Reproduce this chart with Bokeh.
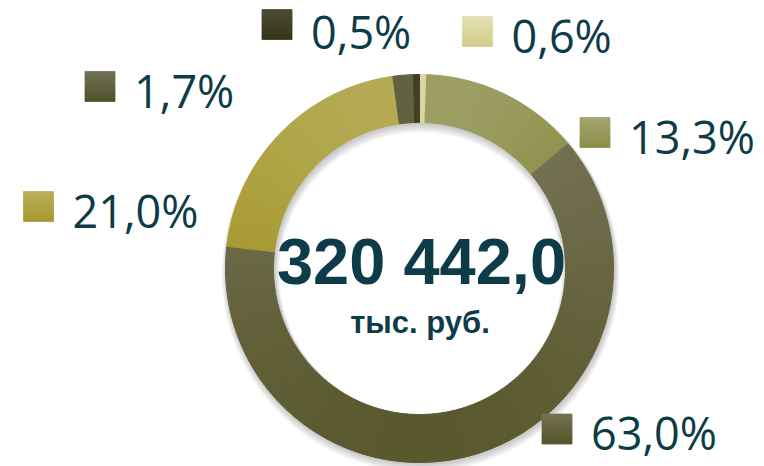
import math
from bokeh.plotting import figure
from bokeh.models import Range1d, ColumnDataSource
from bokeh.core.properties import value
from bokeh.embed import file_html
from bokeh.resources import INLINE

# ---- data (clockwise from 12 o'clock) ----
shares = [0.6, 13.3, 63.0, 21.0, 1.7, 0.5]
# per-slice gradient: top colour -> bottom colour
color_top = ["#e4dfb0", "#a2a36e", "#737153", "#b7ad5a", "#706f51", "#4c4a33"]
color_bot = ["#d4cd8c", "#8e8f48", "#58562a", "#a89a32", "#53522e", "#37351a"]
total_value = 320442.0
unit_label = "тыс. руб."

# ---- layout (page pixel positions of legend squares) ----
sq_x = [477, 594.5, 556.5, 38, 99.5, 276.5]
sq_y = [31, 132, 428.5, 206, 86, 24]

W, H = 764, 466
def X(px):
    return px
def Y(py):
    return H - py

def hex2rgb(h):
    h = h.lstrip("#")
    return [int(h[i:i + 2], 16) for i in (0, 2, 4)]

def mix(c1, c2, t):
    a, b = hex2rgb(c1), hex2rgb(c2)
    return "#%02x%02x%02x" % tuple(int(round(a[i] + (b[i] - a[i]) * t)) for i in range(3))

p = figure(width=W, height=H, x_range=Range1d(0, W), y_range=Range1d(0, H),
           x_axis_type=None, y_axis_type=None, toolbar_location=None,
           output_backend="svg", min_border=0)
p.outline_line_color = None
p.grid.visible = False
p.background_fill_color = "white"
p.border_fill_color = "white"

cx, cy = X(419), Y(268)
r_out, r_in = 194, 146

# soft shadow under the ring
for k in range(1, 7):
    p.annulus(x=cx + 1, y=cy - 1 - k * 0.7, inner_radius=r_in - k * 0.8,
              outer_radius=r_out + k * 0.8, fill_color="black",
              fill_alpha=0.035, line_color=None)

# slices, each split into thin sub-wedges to imitate a vertical gradient
tot = sum(shares)
s_start, s_end, s_col = [], [], []
acc = 0.0
for i, v in enumerate(shares):
    a0 = acc / tot
    acc += v
    a1 = acc / tot
    th_hi = math.pi / 2 - 2 * math.pi * a0   # angle where slice begins (clockwise)
    th_lo = math.pi / 2 - 2 * math.pi * a1
    n = max(2, int(math.degrees(th_hi - th_lo) / 1.0))
    samples = [th_lo + (th_hi - th_lo) * j / 200 for j in range(201)]
    ys = [r * math.sin(t) for t in samples for r in (r_in, r_out)]
    ymax, ymin = max(ys), min(ys)
    for j in range(n):
        t0 = th_lo + (th_hi - th_lo) * j / n
        t1 = th_lo + (th_hi - th_lo) * (j + 1) / n
        ym = 0.5 * (r_in + r_out) * math.sin(0.5 * (t0 + t1))
        f = 0.0 if ymax == ymin else (ymax - ym) / (ymax - ymin)
        s_start.append(t0)
        s_end.append(t1)
        s_col.append(mix(color_top[i], color_bot[i], min(max(f, 0), 1)))

src = ColumnDataSource(dict(start=s_start, end=s_end, color=s_col))
p.annular_wedge(x=cx, y=cy, inner_radius=r_in, outer_radius=r_out,
                start_angle="start", end_angle="end", fill_color="color",
                line_color="color", line_width=1.0, source=src)

# legend squares with gradient strips
qx, qy, qc = [], [], []
nstrip = 10
for i in range(len(shares)):
    for k in range(nstrip):
        qx.append(X(sq_x[i]))
        qy.append(Y(sq_y[i] - 15 + 30 * (k + 0.5) / nstrip))
        qc.append(mix(color_top[i], color_bot[i], k / (nstrip - 1)))
p.rect(x=qx, y=qy, width=30, height=30 / nstrip, fill_color=qc,
       line_color=qc, line_width=0.8)

labels = [f"{v:.1f}".replace(".", ",") + "%" for v in shares]
lsrc = ColumnDataSource(dict(
    tx=[X(v) + 15 + 19 for v in sq_x],
    ty=[Y(max(v + 3.5, 30.5)) for v in sq_y],
    label=labels))
p.text(x="tx", y="ty", text="label", source=lsrc, text_font=value("Open Sans"),
       text_font_size="45px", text_color="#0d3c48", text_baseline="middle",
       text_align="left")

# centre texts
total_txt = f"{total_value:,.1f}".replace(",", " ").replace(".", ",")
p.text(x=[X(421)], y=[Y(260.5)], text=[total_txt], text_font=value("Liberation Sans"),
       text_font_size="65px", text_font_style="bold", text_color="#0d3c48",
       text_align="center", text_baseline="middle")
p.text(x=[X(419.5)], y=[Y(322)], text=[unit_label], text_font=value("Liberation Sans"),
       text_font_size="31px", text_font_style="bold", text_color="#0d3c48",
       text_align="center", text_baseline="middle")

open("out.html", "w").write(file_html(p, INLINE))
